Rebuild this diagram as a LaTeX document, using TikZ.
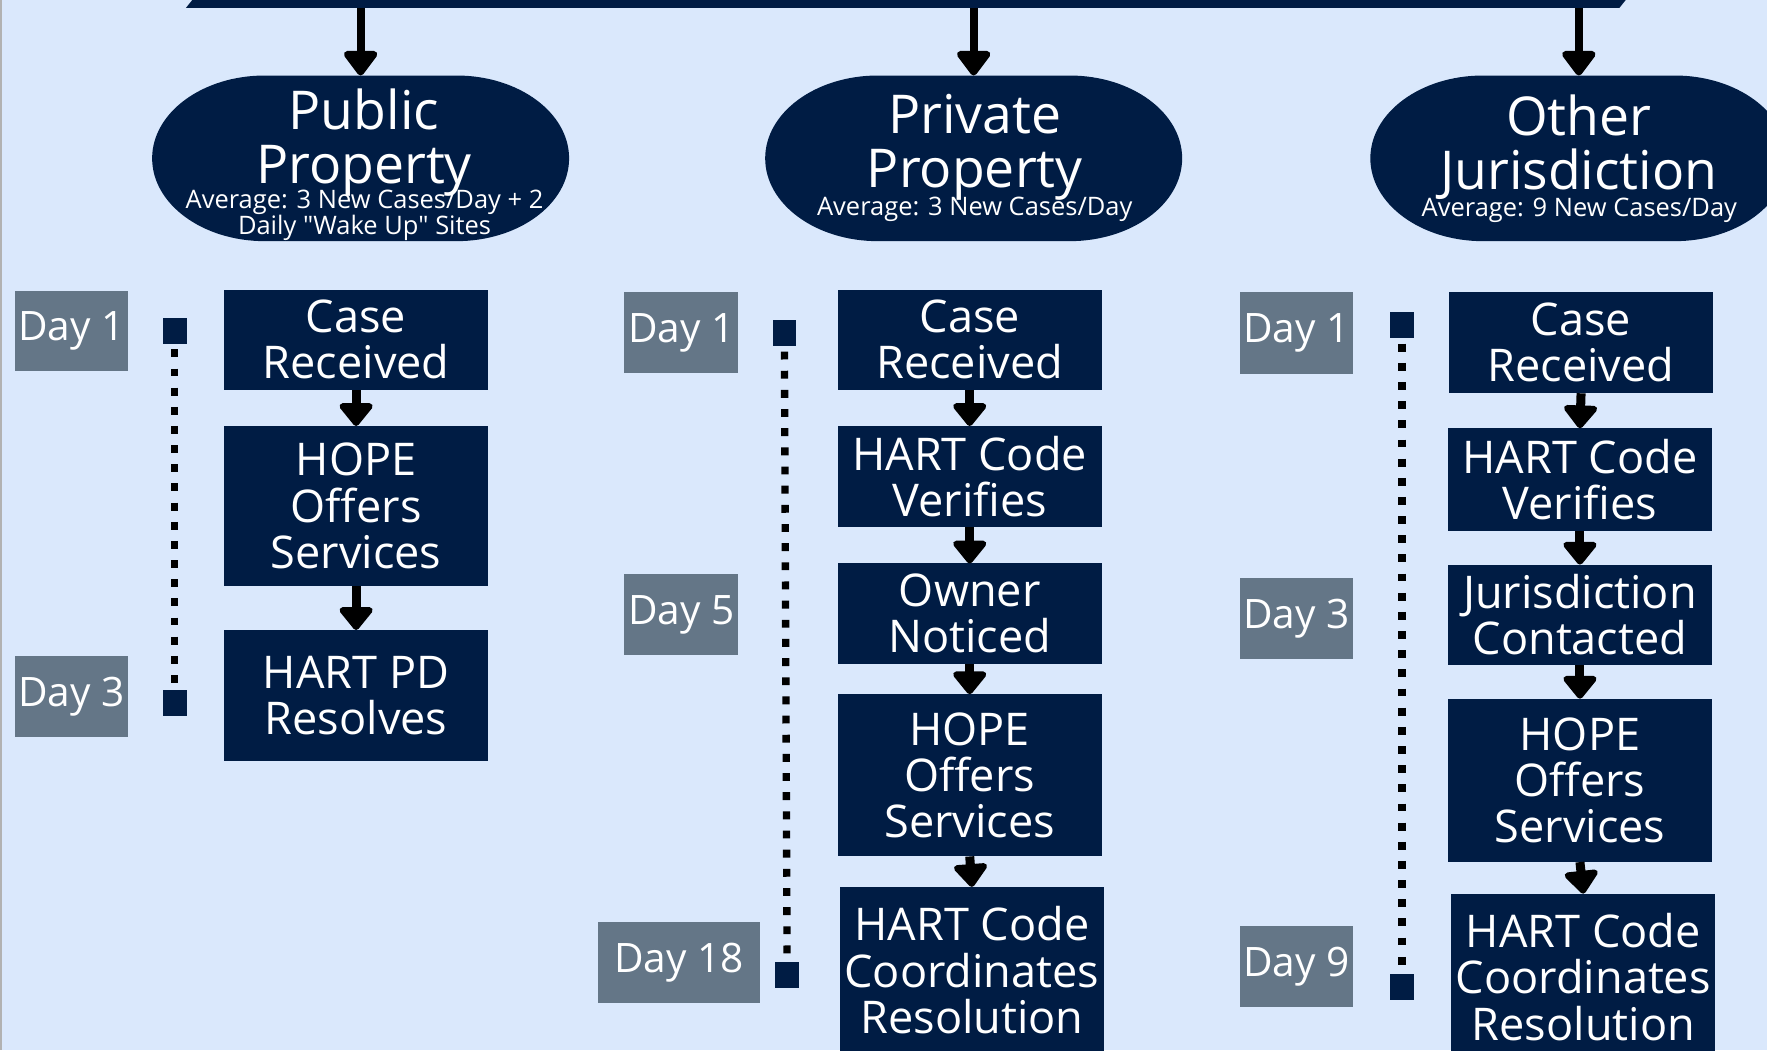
\documentclass[tikz,border=0pt]{standalone}
\usepackage{fontspec}
\setmainfont{Open Sans}
\newfontfamily\qfont{Open Sans}
\usetikzlibrary{arrows.meta,calc}
\definecolor{bg}{HTML}{DAE8FC}
\definecolor{navy}{HTML}{001C44}
\definecolor{dgray}{HTML}{647687}
\begin{document}
\begin{tikzpicture}[x=1pt,y=-1pt,
  every node/.style={inner sep=0pt, outer sep=0pt, text=white},
  box/.style={fill=navy, minimum width=234pt, minimum height=89pt, align=center, font=\fontsize{40}{41}\selectfont},
  daybox/.style={fill=dgray, minimum width=101pt, minimum height=72pt, font=\fontsize{36}{40}\selectfont},
  sq/.style={fill=navy, minimum width=21pt, minimum height=23pt},
  pill/.style={minimum width=370pt, minimum height=147pt,
    path picture={\fill[navy] ([xshift=100pt]path picture bounding box.north west) -- ([xshift=-100pt]path picture bounding box.north east) arc[start angle=90, end angle=-90, x radius=100pt, y radius=73.5pt] -- ([xshift=100pt]path picture bounding box.south west) arc[start angle=270, end angle=90, x radius=100pt, y radius=73.5pt] -- cycle;}},
  bigtxt/.style={align=center, font=\fontsize{47.5}{48}\selectfont},
  smalltxt/.style={align=center, font=\fontsize{22.6}{20.5}\selectfont},
  flow/.style={draw=black, line width=8pt, -{Triangle[width=34pt,length=22pt,round]}},
  toparr/.style={draw=black, line width=7pt, -{Triangle[width=34pt,length=24pt,round]}},
  dots/.style={draw=black, line width=6.5pt, dash pattern=on 7pt off 10pt, shorten <=5pt, shorten >=5pt}
]
\useasboundingbox (0,0) rectangle (1568,932);
\fill[bg] (0,0) rectangle (1568,932);
\clip (0,0) rectangle (1568,932);
\draw[gray!60, line width=2pt] (1,0) -- (1,932);

% top bar
\fill[navy] (165,7) -- (1437,7) -- (1449,-8) -- (177,-8) -- cycle;
\coordinate (b1) at (320,7);
\coordinate (b2) at (864,7);
\coordinate (b3) at (1401,7);

% category pills
\node[pill] (pub) at (320,140.5) {};
\node[pill] (pri) at (864,140.5) {};
\node[pill] (oth) at (1401,140.5) {};
\node[bigtxt] (pubt) at (323,126.5) {Public\\Property};
\node[bigtxt] (prit) at (865,131) {Private\\Property};
\node[bigtxt] (otht) at (1401,131) {Other\\Jurisdiction};
\node[smalltxt] (puba) at (323.5,191) {Average: 3 New Cases/Day + 2\\Daily {\qfont"}Wake Up{\qfont"} Sites};
\node[smalltxt, anchor=base] (pria) at (865,191) {Average: 3 New Cases/Day};
\node[smalltxt, anchor=base] (otha) at (1401.5,192) {Average: 9 New Cases/Day};

\draw[toparr] (b1) -- (pub.north);
\draw[toparr] (b2) -- (pri.north);
\draw[toparr] (b3) -- (oth.north);

% column 1
\node[box] (c1a) at (316,301.5) {Case\\Received};
\node[box, minimum height=142pt] (c1b) at (316,449) {HOPE\\Offers\\Services};
\node[box, minimum height=116pt] (c1c) at (316,617) {HART PD\\Resolves};
\draw[flow] (c1a) -- (c1b);
\draw[flow] (c1b) -- (c1c);

% column 2
\node[box] (c2a) at (860.5,301.5) {Case\\Received};
\node[box, minimum height=90pt] (c2b) at (860.5,423) {HART Code\\Verifies};
\node[box] (c2c) at (860.5,544.5) {Owner\\Noticed};
\node[box, minimum height=144pt] (c2d) at (860.5,688) {HOPE\\Offers\\Services};
\node[box, minimum height=148pt] (c2e) at (862.5,861) {HART Code\\Coordinates\\Resolution};
\draw[flow] (c2a) -- (c2b);
\draw[flow] (c2b) -- (c2c);
\draw[flow] (c2c) -- (c2d);
\draw[flow] (c2d.south) -- (c2e.north);

% column 3
\node[box, minimum height=90pt] (c3a) at (1403,304) {Case\\Received};
\node[box, minimum height=91pt] (c3b) at (1402,425.5) {HART Code\\Verifies};
\node[box] (c3c) at (1402,545.5) {Jurisdiction\\Contacted};
\node[box, minimum height=145pt] (c3d) at (1402,692.5) {HOPE\\Offers\\Services};
\node[box, minimum height=148pt] (c3e) at (1405,867) {HART Code\\Coordinates\\Resolution};
\draw[flow] (c3a.south) -- (c3b.north);
\draw[flow] (c3b) -- (c3c);
\draw[flow] (c3c) -- (c3d);
\draw[flow] (c3d.south) -- (c3e.north);

% day labels
\node[daybox, minimum height=71pt] (d1a) at (63.5,293.5) {Day 1};
\node[daybox] (d1b) at (63.5,618) {Day 3};
\node[daybox] (d2a) at (604.5,295) {Day 1};
\node[daybox] (d2b) at (604.5,545.5) {Day 5};
\node[daybox, minimum width=143pt] (d2c) at (602.5,854) {Day 18};
\node[daybox] (d3a) at (1150.5,295.5) {Day 1};
\node[daybox] (d3b) at (1150.5,549) {Day 3};
\node[daybox] (d3c) at (1150.5,858) {Day 9};

% timeline markers
\node[sq] (s1a) at (155,293.5) {};
\node[sq] (s1b) at (155,623.5) {};
\node[sq] (s2a) at (696,295.5) {};
\node[sq] (s2b) at (698.5,865) {};
\node[sq] (s3a) at (1244,288.5) {};
\node[sq] (s3b) at (1244,876) {};
\draw[dots] (s1a) -- (s1b);
\draw[dots] (s2a) -- (s2b);
\draw[dots] (s3a) -- (s3b);
\end{tikzpicture}
\end{document}
